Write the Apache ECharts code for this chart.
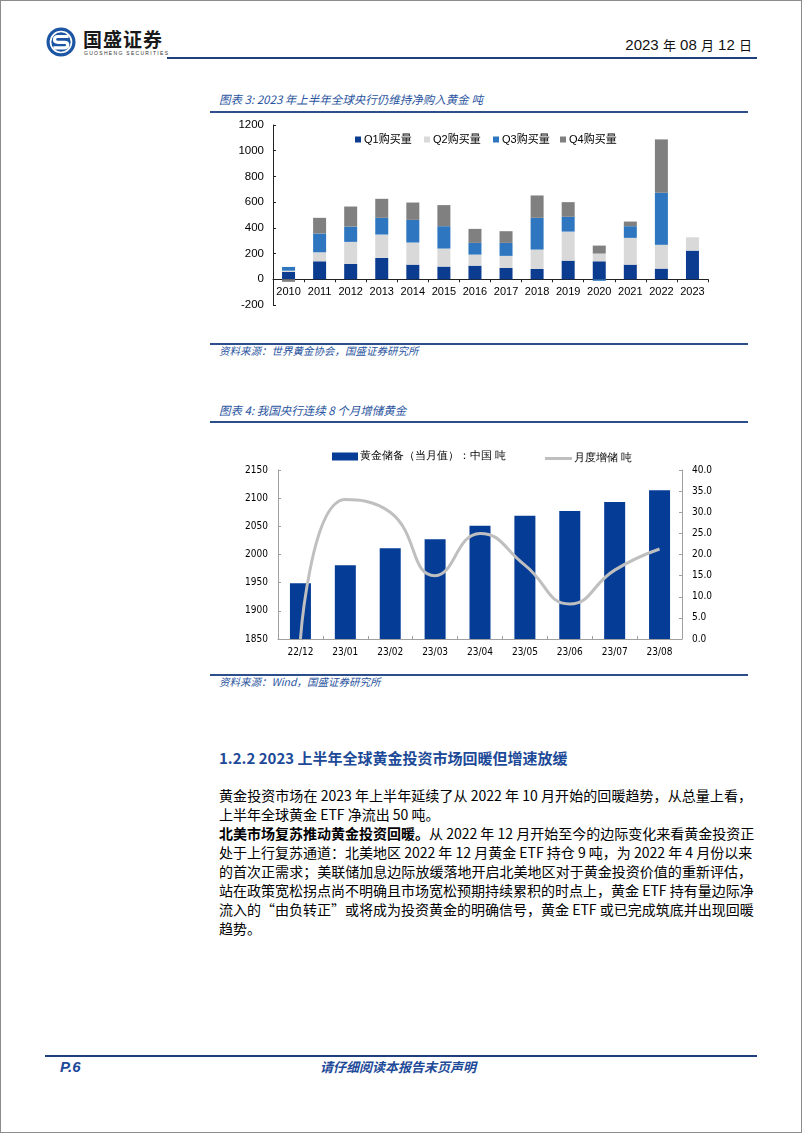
<!DOCTYPE html>
<html><head><meta charset="utf-8">
<script src="https://cdn.jsdelivr.net/npm/echarts@6/dist/echarts.min.js"></script>
<style>
html,body{margin:0;padding:0;}
body{width:802px;height:1133px;position:relative;background:#fff;font-family:"Noto Sans CJK SC",sans-serif;overflow:hidden;}
.frame{position:absolute;left:0;top:0;width:800px;height:1131px;border:1px solid #8c8c8c;}
.abs{position:absolute;white-space:nowrap;}
.hline{position:absolute;background:#1f3f7f;}
.ctitle{position:absolute;left:219px;font-size:11.5px;font-style:italic;color:#2b55a0;line-height:14px;}
.src{position:absolute;left:219px;font-size:10.5px;font-style:italic;color:#2b55a0;line-height:14px;}
.body{position:absolute;left:219px;width:533px;font-size:14px;line-height:19px;color:#000;}
.body div{text-align:justify;text-align-last:justify;white-space:nowrap;}
.body div.last{text-align-last:left;}
#c1{position:absolute;left:210px;top:115px;width:540px;height:200px;}
#c2{position:absolute;left:210px;top:435px;width:540px;height:235px;}
</style></head>
<body>
<div class="frame"></div>
<svg class="abs" style="left:45px;top:26px" width="34" height="34" viewBox="0 0 34 34">
  <circle cx="16" cy="16" r="14.5" fill="#1d55a5"/>
  <circle cx="16" cy="16" r="10.5" fill="none" stroke="#fff" stroke-width="1.6"/>
  <path d="M22 10.5 H13 Q9.5 10.5 9.5 13.5 Q9.5 16.3 13 16.3 H19.5 Q22.8 16.3 22.8 19 Q22.8 21.8 19.5 21.8 H10" fill="none" stroke="#fff" stroke-width="3.2" stroke-linecap="square"/>
</svg>
<div class="abs" style="left:83px;top:27px;font-size:19px;font-weight:bold;color:#1a1a1a;letter-spacing:1px;line-height:24px;">国盛证券</div>
<div class="abs" style="left:84px;top:50px;font-size:5px;color:#333;letter-spacing:1.3px;line-height:6px;font-family:'Liberation Sans';">GUOSHENG SECURITIES</div>
<div class="abs" style="right:50px;top:36px;font-size:15px;color:#111;line-height:18px;font-family:'Liberation Sans Narrow','Liberation Sans','Noto Sans CJK SC';">2023 <span style="font-family:'Noto Sans CJK SC';font-size:13px">年</span> 08 <span style="font-family:'Noto Sans CJK SC';font-size:13px">月</span> 12 <span style="font-family:'Noto Sans CJK SC';font-size:13px">日</span></div>
<div class="hline" style="left:167px;top:57px;width:590px;height:2px;"></div>

<div class="ctitle" style="top:92px;">图表 3: 2023 年上半年全球央行仍维持净购入黄金 吨</div>
<div class="hline" style="left:210px;top:111px;width:538px;height:1.5px;background:#2c4f8c;"></div>
<div id="c1"></div>
<div class="hline" style="left:210px;top:343px;width:538px;height:1.5px;background:#2c4f8c;"></div>
<div class="src" style="top:344px;">资料来源：世界黄金协会，国盛证券研究所</div>

<div class="ctitle" style="top:403px;">图表 4: 我国央行连续 8 个月增储黄金</div>
<div class="hline" style="left:210px;top:421px;width:538px;height:1.5px;background:#2c4f8c;"></div>
<div id="c2"></div>
<div class="hline" style="left:210px;top:674px;width:538px;height:1.5px;background:#2c4f8c;"></div>
<div class="src" style="top:675px;">资料来源：Wind，国盛证券研究所</div>

<div class="abs" style="left:219px;top:748px;font-size:15px;font-weight:bold;color:#1d4a98;line-height:20px;">1.2.2 2023 上半年全球黄金投资市场回暖但增速放缓</div>
<div class="body" style="top:786px;">
<div>黄金投资市场在 2023 年上半年延续了从 2022 年 10 月开始的回暖趋势，从总量上看，</div>
<div class="last">上半年全球黄金 ETF 净流出 50 吨。</div>
<div><b>北美市场复苏推动黄金投资回暖。</b>从 2022 年 12 月开始至今的边际变化来看黄金投资正</div>
<div>处于上行复苏通道：北美地区 2022 年 12 月黄金 ETF 持仓 9 吨，为 2022 年 4 月份以来</div>
<div>的首次正需求；美联储加息边际放缓落地开启北美地区对于黄金投资价值的重新评估，</div>
<div>站在政策宽松拐点尚不明确且市场宽松预期持续累积的时点上，黄金 ETF 持有量边际净</div>
<div>流入的“由负转正”或将成为投资黄金的明确信号，黄金 ETF 或已完成筑底并出现回暖</div>
<div class="last">趋势。</div>
</div>

<div class="hline" style="left:45px;top:1055px;width:712px;height:2px;"></div>
<div class="abs" style="left:60px;top:1057px;font-size:15px;font-weight:bold;font-style:italic;color:#1d4a98;line-height:20px;font-family:'Liberation Sans';">P.6</div>
<div class="abs" style="left:320px;top:1058px;font-size:13px;font-style:italic;font-weight:bold;color:#1d4a98;line-height:18px;">请仔细阅读本报告末页声明</div>

<script>
// ---- Chart 1 data (tonnes) ----
const years = ['2010','2011','2012','2013','2014','2015','2016','2017','2018','2019','2020','2021','2022','2023'];
const q1Buy = [57,140,119,166,114,99,106,88,80,145,140,114,83,223];
const q2Buy = [10,70,172,182,172,140,86,94,151,226,60,208,185,104];
const q3Buy = [29,146,119,130,176,174,91,101,247,115,-12,91,405,null];
const q4Buy = [-20,122,156,148,135,164,109,91,174,114,62,36,415,null];
const yTicks1 = {min:-200, max:1200, interval:200};

// ---- Chart 2 data ----
const months = ['22/12','23/01','23/02','23/03','23/04','23/05','23/06','23/07','23/08'];
const reserves = [1949,1981,2011,2027,2051,2069,2077,2093,2114];
const monthlyAdd = [0,33,30,15,25,17.5,8.3,16.3,21.3];

const c1 = echarts.init(document.getElementById('c1'));
const lblFont = 'Liberation Sans';
function leg(name, left){
  return {left:left, top:14, data:[name], icon:'rect', itemWidth:6, itemHeight:6, itemGap:0,
    textStyle:{fontSize:11, color:'#000', fontFamily:lblFont+', Noto Sans CJK SC', padding:[0,0,0,-2]}};
}
c1.setOption({
  animation:false,
  grid:{left:63, right:42, top:10, bottom:10, containLabel:false, outerBoundsMode:'none'},
  legend:[leg('Q1购买量',140), leg('Q2购买量',209), leg('Q3购买量',278), leg('Q4购买量',345)],
  xAxis:{type:'category', data:years,
    axisLine:{onZero:true, lineStyle:{color:'#222', width:1}},
    axisTick:{show:true, length:3, lineStyle:{color:'#222'}},
    axisLabel:{interval:0, fontSize:11, color:'#000', fontFamily:lblFont, margin:-19}},
  yAxis:{type:'value', min:yTicks1.min, max:yTicks1.max, interval:yTicks1.interval,
    axisLine:{show:true, lineStyle:{color:'#222'}},
    axisTick:{show:true, inside:true, length:3, lineStyle:{color:'#222'}},
    splitLine:{show:false},
    axisLabel:{fontSize:11.5, color:'#000', fontFamily:lblFont, margin:9, formatter:v=>String(v)}},
  series:[
    {name:'Q1购买量', type:'bar', stack:'a', data:q1Buy, barWidth:13, itemStyle:{color:'#0c3c8f'}},
    {name:'Q2购买量', type:'bar', stack:'a', data:q2Buy, itemStyle:{color:'#d9d9d9'}},
    {name:'Q3购买量', type:'bar', stack:'a', data:q3Buy, itemStyle:{color:'#2e77c0'}},
    {name:'Q4购买量', type:'bar', stack:'a', data:q4Buy, itemStyle:{color:'#808080'}}
  ]
});

const c2 = echarts.init(document.getElementById('c2'));
const f2 = 'DejaVu Sans Condensed';
c2.setOption({
  animation:false,
  grid:{left:68, right:68, top:35, bottom:31, containLabel:false, outerBoundsMode:'none'},
  legend:[
    {left:117, top:11, data:['黄金储备（当月值）：中国 吨'], icon:'rect', itemWidth:26, itemHeight:8, itemGap:0,
      textStyle:{fontSize:10.5, color:'#000', padding:[0,0,0,-3]}},
    {left:330, top:13, data:['月度增储 吨'], icon:'rect', itemWidth:27, itemHeight:3, itemGap:0,
      textStyle:{fontSize:10.5, color:'#000', padding:[0,0,0,-3]}}
  ],
  xAxis:{type:'category', data:months,
    axisLine:{lineStyle:{color:'#a0a0a0'}},
    axisTick:{show:true, inside:true, length:3, lineStyle:{color:'#a0a0a0'}},
    axisLabel:{interval:0, fontSize:10, color:'#000', fontFamily:f2, margin:8}},
  yAxis:[
    {type:'value', min:1850, max:2150, interval:50,
      axisLine:{show:true, lineStyle:{color:'#a0a0a0'}},
      axisTick:{show:true, inside:true, length:3, lineStyle:{color:'#a0a0a0'}},
      splitLine:{show:false},
      axisLabel:{fontSize:10, color:'#000', fontFamily:f2, margin:10, formatter:v=>String(v)}},
    {type:'value', min:0, max:40, interval:5, position:'right',
      axisLine:{show:true, lineStyle:{color:'#a0a0a0'}},
      axisTick:{show:true, inside:true, length:3, lineStyle:{color:'#a0a0a0'}},
      splitLine:{show:false},
      axisLabel:{fontSize:10, color:'#000', fontFamily:f2, margin:10, formatter:v=>v.toFixed(1)}}
  ],
  series:[
    {name:'黄金储备（当月值）：中国 吨', type:'bar', data:reserves, barWidth:21, yAxisIndex:0,
      itemStyle:{color:'#053c96'}},
    {name:'月度增储 吨', type:'line', data:monthlyAdd, yAxisIndex:1, smooth:0.5,
      symbol:'none', lineStyle:{color:'#bfbfbf', width:3}, itemStyle:{color:'#bfbfbf'}}
  ]
});
</script>
</body></html>
